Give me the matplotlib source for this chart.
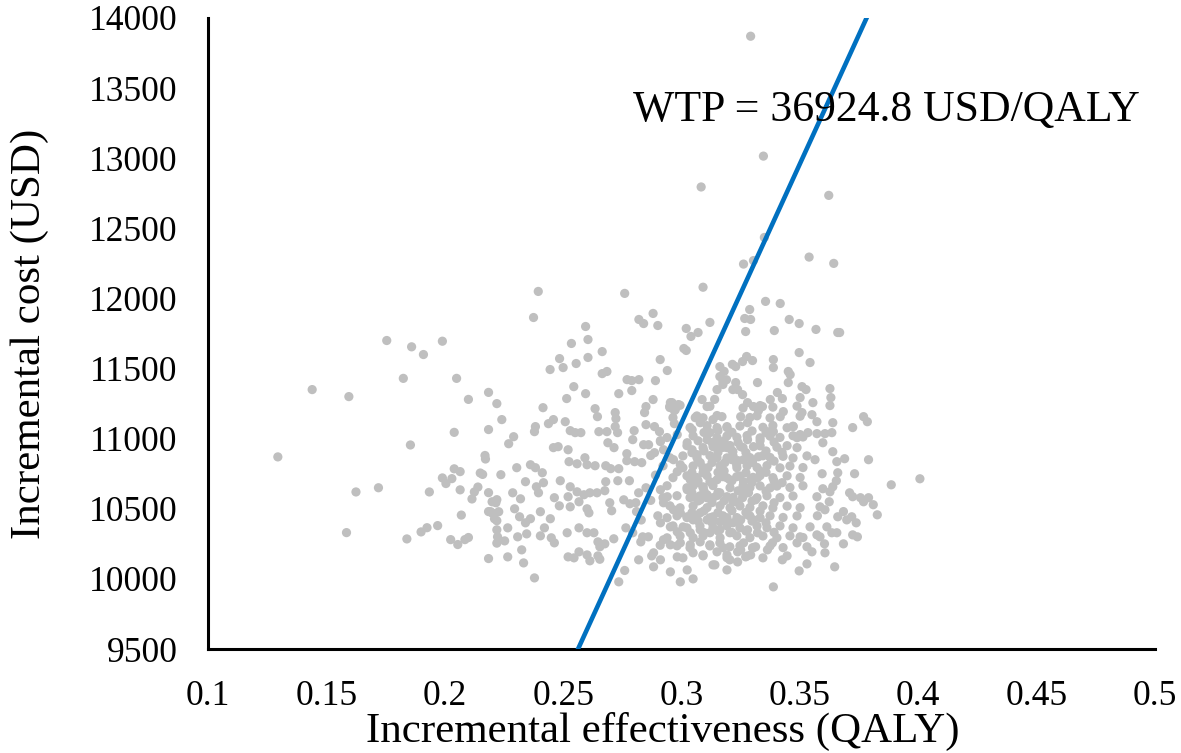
import numpy as np
import matplotlib
matplotlib.use("Agg")
import matplotlib.pyplot as plt

# willingness-to-pay threshold line
wtp = 36924.8
wtp_intercept = 36  # cost at zero effectiveness

# (incremental effectiveness, incremental cost)
outer_pts = [
    (0.1295, 10870), (0.144, 11350), (0.1595, 11300), (0.1585, 10330), (0.1625, 10620),
    (0.172, 10650), (0.1755, 11700), (0.186, 11655), (0.191, 11600), (0.199, 11695),
    (0.1825, 11430), (0.205, 11430), (0.210, 11280), (0.2185, 11330), (0.222, 11250),
    (0.204, 11045), (0.2185, 11065), (0.1855, 10955), (0.217, 10880), (0.2172, 10855),
    (0.204, 10785), (0.2065, 10765), (0.199, 10720), (0.203, 10715), (0.2005, 10680),
    (0.215, 10755), (0.216, 10745), (0.1935, 10620), (0.2065, 10635), (0.214, 10655),
    (0.2125, 10620), (0.2115, 10570), (0.2185, 10615), (0.220, 10550), (0.222, 10565),
    (0.2185, 10480), (0.220, 10470), (0.207, 10455), (0.222, 10415), (0.222, 10350),
    (0.184, 10285), (0.190, 10335), (0.1925, 10365), (0.197, 10380), (0.2025, 10280),
    (0.2055, 10245), (0.2085, 10280), (0.210, 10295), (0.2185, 10145), (0.222, 10255),
]

top_pts = [
    (0.3292, 13870), (0.3346, 13015), (0.3083, 12795), (0.3622, 12735), (0.335, 12435),
    (0.3539, 12295), (0.3643, 12250), (0.3262, 12245), (0.3304, 12270), (0.3091, 12080),
]

west_pts = [
    (0.2395, 12050), (0.276, 12036), (0.2375, 11864), (0.288, 11893), (0.282, 11850),
    (0.284, 11821), (0.290, 11807), (0.2595, 11800), (0.312, 11829), (0.302, 11786),
    (0.304, 11729), (0.307, 11757), (0.2535, 11679), (0.2605, 11707), (0.301, 11643),
    (0.302, 11629), (0.2485, 11571), (0.250, 11507), (0.2445, 11493), (0.2555, 11536),
    (0.2605, 11579), (0.2665, 11621), (0.291, 11564), (0.294, 11486), (0.2665, 11464),
    (0.2685, 11479), (0.277, 11421), (0.279, 11414), (0.282, 11421), (0.289, 11414),
    (0.2545, 11371), (0.2595, 11321), (0.2735, 11321), (0.279, 11343), (0.2415, 11221),
    (0.2515, 11286), (0.2635, 11214), (0.2645, 11157), (0.272, 11186), (0.2723, 11143),
    (0.2844, 11186), (0.285, 11229), (0.288, 11279), (0.296, 11257), (0.295, 11229),
    (0.297, 11200), (0.2241, 11136), (0.2383, 11086), (0.2379, 11050), (0.2438, 11107),
    (0.2459, 11136), (0.2509, 11121), (0.253, 11057), (0.2551, 11043), (0.2575, 11043),
    (0.2651, 11050), (0.2685, 11050), (0.272, 11086), (0.273, 11043), (0.280, 11057),
    (0.2886, 11086), (0.2907, 11050), (0.297, 11107), (0.2291, 11014), (0.227, 10964),
    (0.2459, 10936), (0.2479, 10943), (0.2521, 10921), (0.2689, 10971), (0.2715, 10936),
    (0.2794, 10993), (0.2769, 10893), (0.284, 10957), (0.2861, 10957), (0.2886, 10900),
    (0.2911, 10986), (0.2525, 10836), (0.2559, 10821), (0.2592, 10864), (0.2601, 10814),
    (0.2635, 10807), (0.268, 10807), (0.2701, 10786), (0.2735, 10786), (0.2769, 10843),
    (0.2802, 10836), (0.2832, 10829), (0.2304, 10793), (0.2362, 10814), (0.2383, 10793),
    (0.2412, 10757), (0.2237, 10743), (0.2341, 10693), (0.2387, 10657), (0.2417, 10686),
    (0.2488, 10700), (0.253, 10657), (0.2559, 10621), (0.2588, 10600), (0.2613, 10614),
    (0.2643, 10614), (0.268, 10693), (0.2731, 10700), (0.2676, 10629), (0.2216, 10543),
    (0.2287, 10614), (0.232, 10571), (0.2396, 10614), (0.2463, 10579), (0.2484, 10521),
    (0.2521, 10586), (0.253, 10514), (0.2567, 10550), (0.2601, 10500), (0.2609, 10471),
    (0.2697, 10543), (0.2705, 10486), (0.2756, 10564), (0.2782, 10536), (0.2819, 10614),
    (0.2807, 10543), (0.2194, 10479), (0.2228, 10479), (0.221, 10429), (0.2295, 10500),
    (0.2316, 10443), (0.2341, 10400), (0.2362, 10429), (0.2404, 10479), (0.2446, 10429),
    (0.2421, 10364), (0.2266, 10364), (0.2223, 10300), (0.2253, 10271), (0.2308, 10300),
    (0.2346, 10321), (0.2404, 10307), (0.245, 10293), (0.2463, 10257), (0.2517, 10329),
    (0.2567, 10364), (0.2601, 10329), (0.263, 10329), (0.2647, 10264), (0.2655, 10229),
    (0.2676, 10250), (0.2714, 10286), (0.2765, 10364), (0.2794, 10329), (0.2836, 10300),
    (0.2828, 10264), (0.2266, 10157), (0.2325, 10207), (0.2333, 10114), (0.2379, 10007),
    (0.2521, 10157), (0.2546, 10150), (0.2567, 10193), (0.2601, 10171), (0.2613, 10129),
    (0.2647, 10164), (0.2735, 9979), (0.2874, 10164), (0.2882, 10086), (0.2819, 10136),
    (0.276, 10060), (0.2655, 10140), (0.285, 11100), (0.287, 10880), (0.289, 10740),
    (0.286, 10300), (0.290, 10450), (0.283, 10420), (0.281, 10480), (0.287, 10560),
    (0.285, 10650), (0.278, 10700), (0.291, 10240),
]

core_pts = [
    (0.2953, 11257), (0.2974, 11207), (0.2987, 11243), (0.3087, 11279), (0.3108, 11229),
    (0.3175, 11386), (0.3217, 11350), (0.3258, 11314), (0.3279, 11257), (0.3304, 11229),
    (0.3325, 11200), (0.3058, 11150), (0.3079, 11114), (0.3045, 11064), (0.3133, 11136),
    (0.315, 11079), (0.3192, 11086), (0.325, 11157), (0.3279, 11114), (0.2982, 11029),
    (0.2911, 10979), (0.2924, 10921), (0.3024, 10971), (0.3045, 10921), (0.3066, 10886),
    (0.3108, 10993), (0.3133, 10943), (0.3162, 10971), (0.3192, 10936), (0.3217, 10907),
    (0.325, 10943), (0.3279, 10993), (0.3304, 10943), (0.315, 10864), (0.3183, 10829),
    (0.3213, 10850), (0.3233, 10814), (0.3262, 10850), (0.33, 10836), (0.3325, 10871),
    (0.2966, 10850), (0.2995, 10814), (0.2982, 10764), (0.3079, 10829), (0.3112, 10793),
    (0.3091, 10757), (0.3037, 10707), (0.3066, 10686), (0.3091, 10657), (0.312, 10693),
    (0.315, 10707), (0.3175, 10729), (0.3204, 10707), (0.3233, 10729), (0.3262, 10693),
    (0.3292, 10707), (0.3321, 10721), (0.3024, 10636), (0.3049, 10586), (0.3079, 10564),
    (0.3108, 10600), (0.3133, 10579), (0.3162, 10614), (0.3192, 10586), (0.3217, 10550),
    (0.3258, 10579), (0.3283, 10614), (0.3313, 10564), (0.2911, 10636), (0.294, 10586),
    (0.2924, 10543), (0.2966, 10493), (0.2995, 10471), (0.3024, 10443), (0.3049, 10421),
    (0.3079, 10471), (0.3108, 10421), (0.3133, 10443), (0.3162, 10407), (0.3192, 10436),
    (0.3217, 10400), (0.325, 10421), (0.3279, 10457), (0.3304, 10421), (0.2911, 10400),
    (0.2953, 10371), (0.2982, 10336), (0.3007, 10371), (0.3037, 10329), (0.3079, 10350),
    (0.312, 10329), (0.3162, 10350), (0.3204, 10329), (0.3279, 10350), (0.3321, 10329),
    (0.2924, 10279), (0.2953, 10243), (0.2995, 10257), (0.3037, 10243), (0.3079, 10264),
    (0.312, 10243), (0.3162, 10257), (0.3204, 10229), (0.3262, 10257), (0.33, 10221),
    (0.2882, 10186), (0.2911, 10136), (0.2982, 10157), (0.3049, 10186), (0.3091, 10171),
    (0.315, 10193), (0.3192, 10171), (0.325, 10207), (0.3292, 10171), (0.2953, 10050),
    (0.3024, 10064), (0.3133, 10100), (0.3192, 10064), (0.3237, 10121), (0.2995, 9979),
    (0.3049, 10000), (0.315, 11350), (0.314, 11280), (0.319, 11420), (0.318, 11480),
    (0.3215, 11530),
]

dense_pts = [
    (0.2951, 11222), (0.2994, 11238), (0.312, 11231), (0.326, 11219), (0.3332, 11236), (0.3386, 11225), (0.3488, 11232),
    (0.2964, 11150), (0.3065, 11162), (0.3091, 11149), (0.315, 11165), (0.3289, 11151), (0.3319, 11163), (0.3374, 11148), (0.3501, 11160),
    (0.3036, 11080), (0.3108, 11093), (0.3192, 11079), (0.3247, 11090), (0.3344, 11081), (0.3386, 11094), (0.3446, 11078), (0.3471, 11089),
    (0.2939, 11008), (0.3049, 11020), (0.315, 11007), (0.3192, 11019), (0.3234, 11010), (0.3277, 11022), (0.3332, 11006),
    (0.3374, 11018), (0.3416, 11009), (0.3471, 11021), (0.3513, 11012),
    (0.3023, 10950), (0.3091, 10936), (0.315, 10948), (0.3175, 10938), (0.3205, 10951), (0.326, 10937), (0.3332, 10949),
    (0.3403, 10939), (0.3446, 10950), (0.3488, 10936),
    (0.2951, 10864), (0.3006, 10877), (0.3065, 10866), (0.312, 10879), (0.3192, 10863), (0.3218, 10876), (0.3289, 10865),
    (0.3344, 10878), (0.3374, 10866), (0.3429, 10874), (0.3471, 10862), (0.353, 10877),
    (0.2922, 10806), (0.3006, 10792), (0.3049, 10805), (0.3091, 10794), (0.3163, 10807), (0.3234, 10793), (0.3277, 10806),
    (0.3319, 10795), (0.3361, 10808), (0.3416, 10792), (0.3458, 10805), (0.3513, 10794),
    (0.2964, 10722), (0.3023, 10735), (0.3065, 10723), (0.3108, 10736), (0.3192, 10721), (0.3247, 10734), (0.3302, 10724),
    (0.3332, 10737), (0.3386, 10722), (0.3446, 10735), (0.3501, 10723),
    (0.2939, 10664), (0.3023, 10650), (0.3049, 10663), (0.3091, 10651), (0.3133, 10665), (0.3205, 10650), (0.326, 10664),
    (0.3289, 10651), (0.3332, 10663), (0.3374, 10649), (0.3403, 10662), (0.3458, 10652), (0.3513, 10664),
    (0.2922, 10579), (0.2981, 10593), (0.3036, 10580), (0.3078, 10592), (0.3108, 10578), (0.315, 10594), (0.3218, 10581),
    (0.326, 10592), (0.3319, 10579), (0.3361, 10593), (0.3416, 10580), (0.3471, 10591),
    (0.2951, 10521), (0.2994, 10507), (0.3049, 10520), (0.3108, 10508), (0.3163, 10522), (0.3205, 10507), (0.3247, 10520),
    (0.3289, 10509), (0.3344, 10521), (0.3386, 10506), (0.3446, 10519), (0.3501, 10508),
    (0.2939, 10436), (0.2981, 10450), (0.3023, 10437), (0.3065, 10449), (0.312, 10436), (0.3175, 10450), (0.3234, 10437),
    (0.3289, 10449), (0.3332, 10436), (0.3374, 10450), (0.3429, 10438), (0.3488, 10449),
    (0.2964, 10378), (0.3023, 10364), (0.3078, 10377), (0.3133, 10365), (0.3192, 10378), (0.3247, 10364), (0.3319, 10377),
    (0.3361, 10365), (0.3416, 10378), (0.3471, 10364),
    (0.2939, 10293), (0.2994, 10307), (0.3049, 10294), (0.3091, 10306), (0.3163, 10293), (0.3234, 10307), (0.3289, 10294),
    (0.3344, 10306), (0.3403, 10293), (0.3458, 10307), (0.3513, 10295),
    (0.2981, 10236), (0.3036, 10222), (0.312, 10235), (0.3175, 10223), (0.3247, 10236), (0.3302, 10222), (0.3374, 10235),
    (0.3429, 10223),
    (0.3006, 10150), (0.3091, 10164), (0.3192, 10151), (0.3277, 10163), (0.3344, 10150), (0.3446, 10164),
]

# the thickest part of the cloud, where the dots run together
blob_pts = [
    (0.3095, 11044), (0.3154, 11057), (0.3213, 11046), (0.3298, 11055), (0.3357, 11043),
    (0.307, 10985), (0.3129, 10972), (0.318, 10984), (0.3239, 10973), (0.3332, 10986), (0.3391, 10975),
    (0.3044, 10900), (0.3095, 10913), (0.3154, 10902), (0.3213, 10914), (0.3272, 10901), (0.3357, 10912), (0.3425, 10903),
    (0.307, 10842), (0.3129, 10830), (0.3239, 10843), (0.3298, 10831), (0.3391, 10840),
    (0.3044, 10758), (0.3095, 10771), (0.3154, 10760), (0.318, 10770), (0.3272, 10757), (0.3332, 10769), (0.3357, 10760),
    (0.307, 10699), (0.3129, 10687), (0.3213, 10700), (0.3298, 10688), (0.3391, 10698), (0.3425, 10686),
    (0.3044, 10614), (0.3095, 10627), (0.3154, 10616), (0.3239, 10628), (0.3272, 10615), (0.3357, 10626),
    (0.307, 10556), (0.3129, 10544), (0.318, 10557), (0.3239, 10545), (0.3298, 10555), (0.3391, 10543),
    (0.3044, 10472), (0.3095, 10485), (0.3154, 10473), (0.3213, 10486), (0.3272, 10474), (0.3332, 10484),
    (0.307, 10413), (0.3129, 10401), (0.318, 10414), (0.3239, 10402), (0.3298, 10412), (0.3357, 10400),
    (0.3095, 10330), (0.3154, 10342), (0.3213, 10331), (0.3272, 10341), (0.3391, 10332),
]

east_pts = [
    (0.3355, 11979), (0.3417, 11964), (0.3288, 11921), (0.3292, 11850), (0.3267, 11857),
    (0.3271, 11764), (0.3392, 11771), (0.3455, 11850), (0.3497, 11821), (0.3568, 11779),
    (0.366, 11757), (0.3668, 11757), (0.3497, 11614), (0.3543, 11543), (0.3275, 11586),
    (0.3258, 11550), (0.33, 11557), (0.3229, 11514), (0.3162, 11514), (0.3388, 11564),
    (0.3388, 11507), (0.3451, 11479), (0.3459, 11457), (0.3321, 11400), (0.3162, 11443),
    (0.3175, 11407), (0.3229, 11400), (0.3237, 11350), (0.3405, 11329), (0.3426, 11286),
    (0.3451, 11400), (0.3509, 11371), (0.3526, 11350), (0.3501, 11293), (0.3627, 11357),
    (0.3631, 11293), (0.3627, 11236), (0.3555, 11257), (0.3375, 11279), (0.3342, 11229),
    (0.3417, 11157), (0.343, 11193), (0.3509, 11186), (0.3551, 11171), (0.3572, 11121),
    (0.3769, 11157), (0.3785, 11121), (0.3723, 11079), (0.3639, 11114), (0.3472, 11086),
    (0.3171, 11157), (0.312, 11043), (0.3363, 11050), (0.3388, 11050), (0.3501, 11029),
    (0.3534, 11043), (0.3572, 11036), (0.3606, 11036), (0.3635, 11043), (0.3488, 11007),
    (0.3597, 10971), (0.3639, 10907), (0.3689, 10857), (0.379, 10850), (0.3656, 10836),
    (0.3731, 10750), (0.366, 10757), (0.3886, 10671), (0.4007, 10714), (0.3639, 10657),
    (0.3627, 10621), (0.3597, 10643), (0.371, 10614), (0.3723, 10586), (0.3756, 10579),
    (0.3769, 10550), (0.379, 10579), (0.381, 10529), (0.3827, 10457), (0.3572, 10586),
    (0.3585, 10514), (0.3606, 10493), (0.366, 10443), (0.3698, 10421), (0.3719, 10443),
    (0.3723, 10314), (0.3743, 10300), (0.3614, 10371), (0.3635, 10329), (0.3656, 10329),
    (0.3543, 10371), (0.3572, 10314), (0.3585, 10300), (0.3606, 10186), (0.353, 10229),
    (0.3551, 10193), (0.3501, 10300), (0.3488, 10257), (0.3647, 10086), (0.353, 10107),
    (0.3497, 10057), (0.3388, 9943), (0.3426, 10136), (0.3363, 10207), (0.3384, 10257),
    (0.3313, 10229), (0.3237, 10193), (0.3271, 10157), (0.3141, 10100), (0.3204, 10136),
    (0.3574, 10450), (0.3564, 10850), (0.3594, 10750), (0.3654, 10700), (0.3684, 10480),
    (0.3624, 10550), (0.3604, 10250), (0.3684, 10250), (0.3738, 10400),
]

x_ticks = [0.1, 0.15, 0.2, 0.25, 0.3, 0.35, 0.4, 0.45, 0.5]
y_ticks = [9500, 10000, 10500, 11000, 11500, 12000, 12500, 13000, 13500, 14000]

plt.rcParams['font.family'] = ['Liberation Serif', 'DejaVu Serif']

fig = plt.figure(figsize=(11.81, 7.53), dpi=100)
ax = fig.add_axes([208 / 1181, 1 - 649 / 753, 947 / 1181, 631 / 753])

pts = np.array(outer_pts + top_pts + west_pts + core_pts + dense_pts + blob_pts + east_pts)
ax.scatter(pts[:, 0], pts[:, 1], s=44, color='#BFBFBF', edgecolors='none', zorder=2)

line_cost = np.array([y_ticks[0], y_ticks[-1]])
ax.plot((line_cost - wtp_intercept) / wtp, line_cost, color='#0070C0', lw=3.3, zorder=3)
ax.text(0.2795, 13345, 'WTP = %.1f USD/QALY' % wtp, fontsize=31.5, ha='left', va='center', zorder=4)

ax.set_xlim(x_ticks[0], x_ticks[-1])
ax.set_ylim(y_ticks[0], y_ticks[-1])
ax.set_xticks(x_ticks)
ax.set_xticklabels(['%g' % t for t in x_ticks])
ax.set_yticks(y_ticks)
ax.tick_params(length=0, labelsize=25.5)
ax.tick_params(axis='x', pad=22)
ax.tick_params(axis='y', pad=22)

for side in ['top', 'right']:
    ax.spines[side].set_visible(False)
for side in ['left', 'bottom']:
    ax.spines[side].set_linewidth(2.2)
    ax.spines[side].set_color('black')

ax.set_xlabel('Incremental effectiveness (QALY)', fontsize=31)
ax.xaxis.set_label_coords(0.480, -0.099)
ax.set_ylabel('Incremental cost (USD)', fontsize=31)
ax.yaxis.set_label_coords(-0.168, 0.5)

fig.savefig('out.png', dpi=100)
